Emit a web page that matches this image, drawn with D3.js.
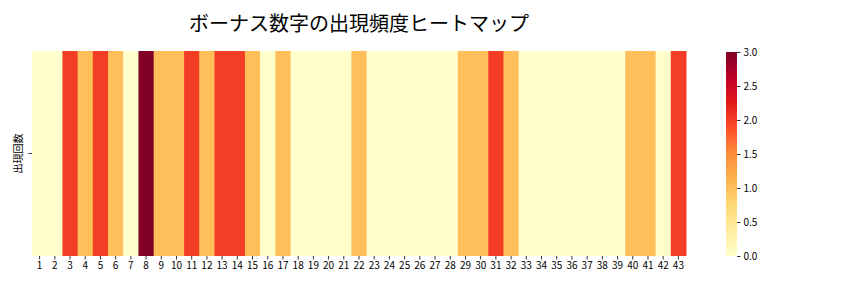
<!DOCTYPE html>
<html>
<head>
<meta charset="utf-8">
<script src="https://cdn.jsdelivr.net/npm/d3@7"></script>
<style>
  body { margin: 0; background: #fff; }
  text { font-family: "Noto Sans CJK JP", sans-serif; }
  .title { font-size: 20px; font-weight: 400; }
</style>
</head>
<body>
<svg id="chart" width="864" height="288"></svg>
<script>
// bonus numbers 1..43 and how often each appeared
const numbers = d3.range(1, 44);
const counts = [0, 0, 2, 1, 2, 1, 0, 3, 1, 1, 2, 1, 2, 2, 1, 0, 1, 0, 0, 0, 0, 1,
                0, 0, 0, 0, 0, 0, 1, 1, 2, 1, 0, 0, 0, 0, 0, 0, 0, 1, 1, 0, 2];
const rowLabels = ["出現回数"];
const cbarTicks = [0, 0.5, 1, 1.5, 2, 2.5, 3];

const svg = d3.select('#chart');
const margin = {top: 51, left: 32, width: 654, height: 205};

// matplotlib-like YlOrRd (linear through colorbrewer stops)
const ylorrd = ["#ffffcc", "#ffeda0", "#fed976", "#feb24c", "#fd8d3c", "#fc4e2a", "#e31a1c", "#bd0026", "#800026"];
const color = d3.scaleLinear()
    .domain(d3.range(ylorrd.length).map(i => 3 * i / (ylorrd.length - 1)))
    .range(ylorrd)
    .interpolate(d3.interpolateRgb);

const xScale = d3.scaleBand()
    .domain(numbers)
    .range([margin.left, margin.left + margin.width]);

const yScale = d3.scaleBand()
    .domain(rowLabels)
    .range([margin.top, margin.top + margin.height]);

// cells
svg.append('g').selectAll('rect')
    .data(numbers.map((n, i) => ({n: n, v: counts[i]})))
    .join('rect')
    .attr('x', d => xScale(d.n))
    .attr('y', yScale(rowLabels[0]))
    .attr('width', xScale.bandwidth() + 0.5)
    .attr('height', yScale.bandwidth())
    .attr('fill', d => color(d.v));

// x axis
const xAxis = svg.append('g')
    .attr('transform', `translate(0,${margin.top + margin.height})`)
    .call(d3.axisBottom(xScale).tickSize(3.5).tickPadding(2));
xAxis.select('.domain').remove();
xAxis.selectAll('text').style('font-size', '10px').style('font-family', '"Noto Sans CJK JP", sans-serif').attr('fill', '#000');
xAxis.selectAll('line').attr('stroke', '#000').attr('stroke-width', 0.8);

// y axis
const yAxis = svg.append('g')
    .attr('transform', `translate(${margin.left},0)`)
    .call(d3.axisLeft(yScale).tickSize(3.5).tickPadding(3));
yAxis.select('.domain').remove();
yAxis.selectAll('line').attr('stroke', '#000').attr('stroke-width', 0.8);
yAxis.selectAll('text')
    .style('font-size', '10px')
    .style('font-family', '"Noto Sans CJK JP", sans-serif')
    .attr('fill', '#000')
    .attr('text-anchor', 'middle')
    .attr('dy', 0)
    .attr('x', 0)
    .attr('transform', 'translate(-10,0) rotate(-90)');

// colorbar
const cbar = {x: 726, y: 52, w: 11, h: 204};
const defs = svg.append('defs');
const grad = defs.append('linearGradient')
    .attr('id', 'cbar-grad')
    .attr('x1', 0).attr('y1', 1).attr('x2', 0).attr('y2', 0);
ylorrd.forEach((c, i) => {
    grad.append('stop')
        .attr('offset', i / (ylorrd.length - 1))
        .attr('stop-color', c);
});
svg.append('rect')
    .attr('x', cbar.x).attr('y', cbar.y)
    .attr('width', cbar.w).attr('height', cbar.h)
    .attr('fill', 'url(#cbar-grad)');

const cScale = d3.scaleLinear().domain([0, 3]).range([cbar.y + cbar.h, cbar.y]);
const cAxis = svg.append('g')
    .attr('transform', `translate(${cbar.x + cbar.w},0)`)
    .call(d3.axisRight(cScale).tickValues(cbarTicks).tickFormat(d3.format('.1f')).tickSize(3.5).tickPadding(3));
cAxis.select('.domain').remove();
cAxis.selectAll('line').attr('stroke', '#000').attr('stroke-width', 0.8);
cAxis.selectAll('text').style('font-size', '10px').style('font-family', '"Noto Sans CJK JP", sans-serif').attr('fill', '#000');

// title
svg.append('text')
    .attr('class', 'title')
    .attr('x', 359)
    .attr('y', 31)
    .attr('text-anchor', 'middle')
    .attr('fill', '#000')
    .text('ボーナス数字の出現頻度ヒートマップ');
</script>
</body>
</html>
